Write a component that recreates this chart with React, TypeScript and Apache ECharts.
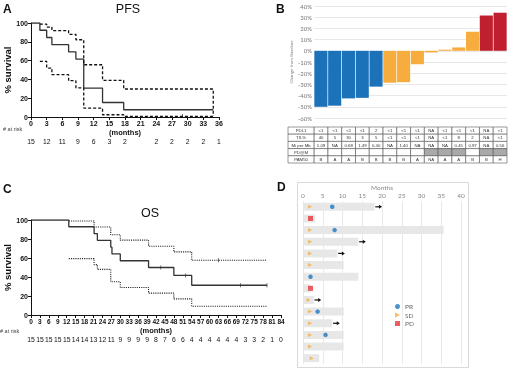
import React, { useEffect, useRef } from "react";
import * as echarts from "echarts";

// ---------- Panel A: PFS ----------
const pfsTime = [0, 1.7, 3, 4, 7.2, 8.6, 10.1, 13.7, 17.75, 34.9];
const pfsSurv = [100, 92.3, 84.6, 76.9, 69.2, 61.5, 30.8, 15.4, 7.7, 7.7];
const pfsUpperTime = [1.7, 3, 4, 7.2, 8.6, 10.1, 13.7, 17.75, 34.9, 34.9];
const pfsUpper = [98.9, 95.7, 91.8, 87.9, 82.2, 55.6, 39, 29.8, 29.8, 1];
const pfsLowerTime = [1.7, 3, 4, 7.2, 8.6, 10.1, 13.7, 17.75, 34.9];
const pfsLower = [59.2, 52.1, 45, 38.6, 30.9, 9.5, 2.4, 0.7, 0.7];
const pfsCensor = [[29, 1]];
const pfsAtRisk = ["15", "12", "11", "9", "6", "3", "2", "", "2", "2", "2", "2", "1"];

// ---------- Panel B: waterfall ----------
const patients = ["1", "2", "3", "4", "5", "6", "7", "8", "9", "10", "11", "12", "13", "14"];
const bChange = [-50, -49, -42.5, -42, -32, -28.5, -28, -12, -1.5, 1, 3, 17, 31.5, 34];
const bResponse = ["PR", "PR", "PR", "PR", "PR", "SD", "SD", "SD", "SD", "SD", "SD", "SD", "PD", "PD"];
const tableRowLabels = ["PDL1", "TIL%", "Mi per Mb", "PD@M", "PAM50"];
const rowPdl1 = ["<1", "<1", "<1", "<1", "2", "<1", "<1", "<1", "NA", "<1", "<1", "<1", "NA", "<1"];
const rowTil = ["40", "5", "30", "3", "5", "<1", "<1", "<1", "NA", "<1", "8", "2", "NA", "<1"];
const rowMiMb = ["1.09", "NA", "0.68", "1.49", "0.40", "NA", "1.40", "NA", "NA", "NA", "0.45", "0.97", "NA", "0.56"];
const rowPdAtM = [false, false, false, false, false, false, false, false, true, true, true, false, true, true];
const rowPam50 = ["B", "A", "A", "B", "B", "B", "B", "A", "NA", "A", "A", "B", "B", "H"];

// ---------- Panel C: OS ----------
const osTime = [0, 12.7, 21.2, 22.3, 26.8, 27.2, 30, 39.5, 48, 54, 79.3];
const osSurv = [100, 92.9, 85.7, 78.6, 71.4, 64.3, 57.1, 50, 41.7, 31.3, 31.3];
const osUpperTime = [12.7, 21.2, 26.8, 30, 39.5, 48, 54, 79.3];
const osUpper = [99, 92.6, 84.4, 78.8, 72.4, 66.4, 57.6, 57.6];
const osLowerTime = [12.7, 21.2, 22.3, 26.8, 30, 39.5, 48, 54, 79.3];
const osLower = [59.3, 53, 48, 35, 29, 23, 17, 9.2, 9.2];
const osCensor = [[43.6, 50], [51.9, 41.7], [70.4, 31.3], [79.3, 31.3]];
const osUpperCensor = [[63, 57.6]];
const osAtRisk = ["15", "15", "15", "15", "15", "14", "14", "13", "12", "11", "9", "9", "9", "9", "8", "7", "6", "6", "4", "4", "4", "4", "4", "4", "3", "3", "2", "1", "0"];

// ---------- Panel D: swimmer ----------
const dRows = ["1", "2", "3", "4", "5", "6", "7", "8", "9", "10", "11", "12", "13", "14"];
const dMonths = [18.1, 3.0, 35.6, 14.0, 8.7, 10.3, 14.0, 1.9, 2.7, 10.3, 7.4, 10.3, 10.3, 4.1];
const dSD = [1.8, null, 1.8, 1.8, 1.8, 1.8, null, null, 1.4, 1.8, 1.8, 1.8, 1.8, 2.2];
const dPR = [7.4, null, 8.0, null, null, null, 1.9, null, null, 3.7, null, 5.7, null, null];
const dPD = [null, 1.9, null, null, null, null, null, 1.9, null, null, null, null, null, null];
const dOngoing = [true, false, false, true, true, false, false, false, true, false, true, false, false, false];

const FONT = "Liberation Sans, Arial, sans-serif";
const LFONT = "Lato, Open Sans, sans-serif";
const BLUE = "#1b72b8";
const ORANGE = "#f7ad3e";
const RED = "#c01f2f";
const respColor: Record<string, string> = { PR: BLUE, SD: ORANGE, PD: RED };
const TRI = "path://M0,0L10,5L0,10Z";

const zip = (a: number[], b: number[]) => a.map((v, i) => [v, b[i]]);

function kmX(gridIndex: number, max: number, fs: number) {
  return {
    type: "value", gridIndex, min: 0, max, interval: 3,
    name: "(months)", nameLocation: "middle", nameGap: 11,
    nameTextStyle: { fontFamily: FONT, fontWeight: "bold", fontSize: 7.5, color: "#111" },
    axisLine: { show: true, onZero: false, lineStyle: { color: "#111", width: 1 } },
    axisTick: { show: true, length: 3, lineStyle: { color: "#111" } },
    axisLabel: { fontFamily: FONT, fontWeight: "bold", fontSize: fs, color: "#111", margin: 3 },
    splitLine: { show: false },
  };
}
function riskX(gridIndex: number, max: number, vals: string[]) {
  return {
    type: "value", gridIndex, min: 0, max, interval: 3, position: "bottom", offset: 21,
    axisLine: { show: false }, axisTick: { show: false }, splitLine: { show: false },
    axisLabel: {
      margin: 0, fontFamily: FONT, fontSize: 6.8, color: "#111",
      formatter: (v: number) => vals[Math.round(v / 3)] ?? "",
    },
  };
}
function kmY(gridIndex: number) {
  return {
    type: "value", gridIndex, min: 0, max: 100, interval: 20,
    name: "% survival", nameLocation: "middle", nameGap: 16, nameRotate: 90,
    nameTextStyle: { fontFamily: FONT, fontWeight: "bold", fontSize: 9.5, color: "#111" },
    axisLine: { show: true, lineStyle: { color: "#111", width: 1 } },
    axisTick: { show: true, length: 3, lineStyle: { color: "#111" } },
    axisLabel: { fontFamily: FONT, fontWeight: "bold", fontSize: 7, color: "#111", margin: 3 },
    splitLine: { show: false },
  };
}
function kmLine(x: number, y: number, data: number[][], type: any, width = 1.2, color = "#222") {
  return {
    type: "line", xAxisIndex: x, yAxisIndex: y, step: "end", symbol: "none", silent: true,
    data, lineStyle: { color, width, type }, z: 3,
  };
}

// table cells
type Cell = { x: number; w: number; row: number; text: string; fill: string };
const tableRows = [rowPdl1, rowTil, rowMiMb, rowPdAtM.map(() => ""), rowPam50];
const cells: Cell[] = [];
tableRowLabels.forEach((lab, r) => {
  cells.push({ x: -1.9, w: 1.9, row: r, text: lab, fill: "#fff" });
  tableRows[r].forEach((t, i) => {
    const grey = r === 3 && rowPdAtM[i];
    cells.push({ x: i, w: 1, row: r, text: t, fill: grey ? "#a9a9a9" : "#fff" });
  });
});

export default function App() {
  const ref = useRef<HTMLDivElement>(null);
  useEffect(() => {
    if (!ref.current) return;
    const chart = echarts.init(ref.current, null, { renderer: "svg" });
    const option: any = {
      animation: false,
      backgroundColor: "#fff",
      textStyle: { fontFamily: FONT },
      grid: [
        { left: 31, top: 23, width: 188, height: 94 },
        { left: 314, top: 6, width: 193, height: 112 },
        { left: 288, top: 127, width: 219, height: 36 },
        { left: 31, top: 220, width: 250, height: 95 },
        { left: 303, top: 201, width: 158, height: 163 },
      ],
      xAxis: [
        kmX(0, 36, 7),
        riskX(0, 36, pfsAtRisk),
        { type: "category", gridIndex: 1, data: patients, show: false },
        { type: "value", gridIndex: 2, min: -1.9, max: 14, show: false },
        kmX(3, 84, 6.5),
        riskX(3, 84, osAtRisk),
        {
          type: "value", gridIndex: 4, position: "top", min: 0, max: 40, interval: 5,
          name: "Months", nameLocation: "middle", nameGap: 10,
          nameTextStyle: { fontFamily: LFONT, color: "#888", fontSize: 6.5 },
          axisLine: { show: false }, axisTick: { show: false },
          axisLabel: { fontFamily: LFONT, color: "#888", fontSize: 6.5, margin: 2 },
          splitLine: { show: true, lineStyle: { color: "#e3e3e3", width: 0.8 } },
        },
      ],
      yAxis: [
        kmY(0),
        {
          type: "value", gridIndex: 1, min: -60, max: 40, interval: 10,
          name: "Change from Baseline", nameLocation: "middle", nameGap: 20,
          nameTextStyle: { fontFamily: LFONT, fontSize: 4.5, color: "#888" },
          axisLine: { show: false }, axisTick: { show: false },
          axisLabel: { formatter: "{value}%", fontFamily: LFONT, color: "#777", fontSize: 6, margin: 2 },
          splitLine: { show: true, lineStyle: { color: "#e2e2e2", width: 0.8 } },
        },
        { type: "value", gridIndex: 2, min: 0, max: 5, inverse: true, show: false },
        kmY(3),
        { type: "category", gridIndex: 4, data: dRows, inverse: true, show: false },
      ],
      legend: {
        left: 395, top: 303, orient: "vertical", itemWidth: 5, itemHeight: 5, itemGap: 1.5, padding: 0,
        textStyle: { fontFamily: LFONT, fontSize: 6.5, color: "#666", lineHeight: 7 },
        data: [
          { name: "PR", icon: "circle" },
          { name: "SD", icon: TRI },
          { name: "PD", icon: "rect" },
        ],
      },
      graphic: [
        { type: "text", left: 3, top: 3, style: { text: "A", font: `bold 12px ${FONT}`, fill: "#111" } },
        { type: "text", x: 128, y: 2, style: { text: "PFS", font: `12.5px ${FONT}`, fill: "#111", align: "center" } },
        { type: "text", x: 3, y: 126, style: { text: "# at risk", font: `5.5px ${FONT}`, fill: "#444" } },
        { type: "text", x: 276, y: 3, style: { text: "B", font: `bold 12px ${FONT}`, fill: "#111" } },
        { type: "text", x: 3, y: 183, style: { text: "C", font: `bold 12px ${FONT}`, fill: "#111" } },
        { type: "text", x: 150, y: 206, style: { text: "OS", font: `12.5px ${FONT}`, fill: "#111", align: "center" } },
        { type: "text", x: 0, y: 328, style: { text: "# at risk", font: `5.5px ${FONT}`, fill: "#444" } },
        { type: "text", x: 277, y: 181, style: { text: "D", font: `bold 12px ${FONT}`, fill: "#111" } },
        { type: "rect", shape: { x: 297.5, y: 182.5, width: 171, height: 185 }, style: { fill: "none", stroke: "#d9d9d9", lineWidth: 1 }, z: -1 },
      ],
      series: [
        // PFS
        kmLine(0, 0, zip(pfsTime, pfsSurv), "solid", 1.3, "#333"),
        kmLine(0, 0, zip(pfsUpperTime, pfsUpper), [3, 2], 1.3, "#111"),
        kmLine(0, 0, zip(pfsLowerTime, pfsLower), [3, 2], 1.3, "#111"),
        {
          type: "scatter", xAxisIndex: 0, yAxisIndex: 0, data: pfsCensor, symbol: "rect",
          symbolSize: [0.8, 4], itemStyle: { color: "#111" }, silent: true,
        },
        // B waterfall
        {
          type: "bar", xAxisIndex: 2, yAxisIndex: 1, barCategoryGap: "5%", silent: true,
          data: bChange.map((v, i) => ({ value: v, itemStyle: { color: respColor[bResponse[i]] } })),
        },
        // table
        {
          type: "custom", xAxisIndex: 3, yAxisIndex: 2, silent: true,
          data: cells.map((c) => [c.x, c.row]),
          renderItem: (params: any, api: any) => {
            const c = cells[params.dataIndex];
            const p0 = api.coord([c.x, c.row]);
            const p1 = api.coord([c.x + c.w, c.row + 1]);
            return {
              type: "group",
              children: [
                {
                  type: "rect",
                  shape: { x: p0[0], y: p0[1], width: p1[0] - p0[0], height: p1[1] - p0[1] },
                  style: { fill: c.fill, stroke: "#555", lineWidth: 0.6 },
                },
                {
                  type: "text",
                  style: {
                    text: c.text, x: (p0[0] + p1[0]) / 2, y: (p0[1] + p1[1]) / 2,
                    align: "center", verticalAlign: "middle", fontSize: 4.3, fontFamily: FONT, fill: "#333",
                  },
                },
              ],
            };
          },
        },
        // OS
        kmLine(4, 3, zip(osTime, osSurv), "solid", 1.3, "#333"),
        kmLine(4, 3, zip(osUpperTime, osUpper), "dotted", 1.1, "#222"),
        kmLine(4, 3, zip(osLowerTime, osLower), "dotted", 1.1, "#222"),
        {
          type: "scatter", xAxisIndex: 4, yAxisIndex: 3, data: osCensor.concat(osUpperCensor), symbol: "rect",
          symbolSize: [0.8, 4], itemStyle: { color: "#222" }, silent: true,
        },
        // D swimmer
        {
          type: "bar", xAxisIndex: 6, yAxisIndex: 4, data: dMonths, barWidth: 8, silent: true,
          itemStyle: { color: "#e7e7e7" },
        },
        {
          type: "custom", xAxisIndex: 6, yAxisIndex: 4, silent: true,
          data: dMonths.map((m, i) => [m, i]).filter((_, i) => dOngoing[i]),
          renderItem: (params: any, api: any) => {
            const s = api.coord([api.value(0) + 0.2, api.value(1)]);
            const e = api.coord([api.value(0) + 1.9, api.value(1)]);
            return {
              type: "group",
              children: [
                { type: "line", shape: { x1: s[0], y1: s[1], x2: e[0] - 2, y2: e[1] }, style: { stroke: "#111", lineWidth: 1.2 } },
                { type: "polygon", shape: { points: [[e[0] - 3, e[1] - 2], [e[0], e[1]], [e[0] - 3, e[1] + 2]] }, style: { fill: "#111" } },
              ],
            };
          },
        },
        {
          name: "SD", type: "scatter", xAxisIndex: 6, yAxisIndex: 4, symbol: TRI, symbolSize: 4, silent: true,
          itemStyle: { color: ORANGE },
          data: dSD.map((v, i) => [v, i]).filter((d) => d[0] !== null),
        },
        {
          name: "PR", type: "scatter", xAxisIndex: 6, yAxisIndex: 4, symbol: "circle", symbolSize: 4.5, silent: true,
          itemStyle: { color: "#1f78c1" },
          data: dPR.map((v, i) => [v, i]).filter((d) => d[0] !== null),
        },
        {
          name: "PD", type: "scatter", xAxisIndex: 6, yAxisIndex: 4, symbol: "rect", symbolSize: 5, silent: true,
          itemStyle: { color: "#e8353b" },
          data: dPD.map((v, i) => [v, i]).filter((d) => d[0] !== null),
        },
      ],
    };
    chart.setOption(option);
    return () => chart.dispose();
  }, []);
  return (
    <div
      ref={ref}
      style={{ position: "fixed", left: 0, top: 0, width: 508, height: 370, background: "#fff", willChange: "transform" }}
    />
  );
}
